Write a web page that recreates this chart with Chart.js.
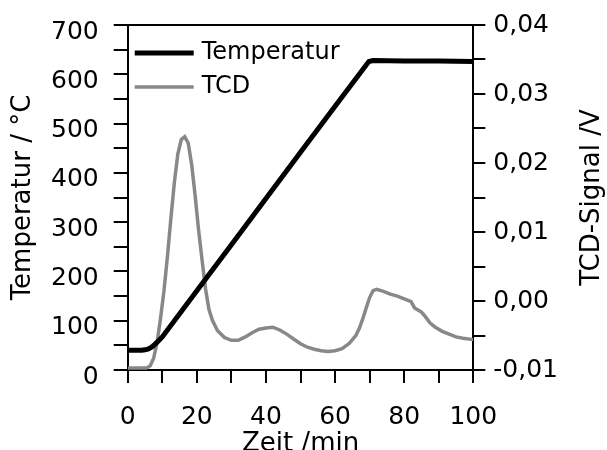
<!DOCTYPE html>
<html>
<head>
<meta charset="utf-8">
<script src="https://cdn.jsdelivr.net/npm/chart.js@4.4.1/dist/chart.umd.min.js"></script>
<style>
  html, body { margin: 0; padding: 0; overflow: hidden; background: #fff; }
  canvas { display: block; }
</style>
</head>
<body>
<canvas id="tpd" width="607" height="457"></canvas>
<script>
// Temperaturprogramm (linke Achse)
const tempTime   = [0, 4, 5, 6, 7, 8, 9, 10, 20, 30, 40, 50, 60, 69, 69.8, 71, 80, 90, 100];
const tempValues = [40, 40, 41, 43, 47, 53, 60, 67, 161, 254, 348, 442, 535, 619, 626, 628, 627, 627, 626];

// TCD-Signal (rechte Achse, in V)
const tcdTime = [0, 2, 4, 5.5, 6.5, 7.5, 8.5, 9.5, 10.5, 11.5, 12.5, 13.5, 14.5, 15.5, 16.5, 17.5, 18.5, 19.5,
  20.5, 21.5, 22.5, 23.5, 24.5, 26, 28, 30, 32, 34, 36, 38, 40, 42, 44, 46, 48, 50, 52, 54, 56, 58, 60, 62,
  64, 66, 67, 68, 69, 70, 71, 72, 74, 76, 78, 80, 82, 83, 84, 85, 86, 87.5, 89, 91, 93, 95, 97, 100];
const tcdValues = [-0.0097, -0.0097, -0.0097, -0.0097, -0.0094, -0.0083, -0.0060, -0.0025, 0.0015, 0.0065,
  0.0120, 0.0172, 0.0213, 0.0234, 0.0238, 0.0229, 0.0198, 0.0153, 0.0103, 0.0060, 0.0018, -0.0012, -0.0028,
  -0.0043, -0.0053, -0.0057, -0.0057, -0.0052, -0.0046, -0.0041, -0.0039, -0.0038, -0.0042, -0.0048, -0.0055,
  -0.0062, -0.0067, -0.0070, -0.0072, -0.0073, -0.0072, -0.0069, -0.0062, -0.0050, -0.0040, -0.0026, -0.0010,
  0.0005, 0.0015, 0.0017, 0.0014, 0.0010, 0.0007, 0.0003, -0.0001, -0.0010, -0.0013, -0.0016, -0.0022,
  -0.0032, -0.0038, -0.0044, -0.0048, -0.0052, -0.0054, -0.0056];

// beschriftete Ticks
const xLabels  = [0, 20, 40, 60, 80, 100];
const yLabels  = [0, 100, 200, 300, 400, 500, 600, 700];
const y2Labels = [-0.01, 0, 0.01, 0.02, 0.03, 0.04];

const FONT = "'DejaVu Sans', sans-serif";
const toPoints = (xs, ys) => xs.map((x, i) => ({x: x, y: ys[i]}));
const near = (v, list) => list.some(l => Math.abs(l - v) < 1e-9);

// obere Rahmenlinie, Legende und rechte Achsenbeschriftung (von unten nach oben)
const extras = {
  id: 'extras',
  afterDraw(chart) {
    const ctx = chart.ctx;
    const a = chart.chartArea;
    ctx.save();
    ctx.strokeStyle = '#000';
    ctx.lineWidth = 2;
    ctx.beginPath();
    ctx.moveTo(a.left, a.top);
    ctx.lineTo(a.right, a.top);
    ctx.stroke();

    // Legende
    ctx.font = '24px ' + FONT;
    ctx.textBaseline = 'middle';
    ctx.textAlign = 'left';
    chart.data.datasets.forEach((ds, i) => {
      const y = a.top + 28 + i * 34;
      ctx.strokeStyle = ds.borderColor;
      ctx.lineWidth = ds.borderWidth;
      ctx.beginPath();
      ctx.moveTo(a.left + 7, y);
      ctx.lineTo(a.left + 66, y);
      ctx.stroke();
      ctx.fillStyle = '#000';
      ctx.fillText(ds.label, a.left + 74, y);
    });

    // rechte Achse: Titel gedreht wie links
    const s = chart.scales.y2;
    ctx.translate(s.right - 13 - 2, (a.top + a.bottom) / 2);
    ctx.rotate(-Math.PI / 2);
    ctx.font = '26px ' + FONT;
    ctx.textAlign = 'center';
    ctx.fillText('TCD-Signal /V', 0, 0);
    ctx.restore();
  }
};

const axisGrid = {drawOnChartArea: false, color: '#000', tickColor: '#000', lineWidth: 2, tickWidth: 2};

new Chart(document.getElementById('tpd'), {
  type: 'line',
  data: {
    datasets: [
      {
        label: 'Temperatur',
        data: toPoints(tempTime, tempValues),
        yAxisID: 'y',
        borderColor: '#000',
        borderWidth: 5,
        pointRadius: 0
      },
      {
        label: 'TCD',
        data: toPoints(tcdTime, tcdValues),
        yAxisID: 'y2',
        borderColor: '#888',
        borderWidth: 3.5,
        pointRadius: 0
      }
    ]
  },
  options: {
    responsive: false,
    animation: false,
    layout: {padding: {top: 25, left: 0, right: 0, bottom: 0}},
    plugins: {legend: {display: false}, tooltip: {enabled: false}},
    scales: {
      x: {
        type: 'linear',
        min: 0, max: 100,
        grid: Object.assign({}, axisGrid, {tickLength: 13}),
        border: {display: true, color: '#000', width: 2},
        ticks: {
          stepSize: 10, padding: 19.5, color: '#000', maxRotation: 0, autoSkip: false,
          font: {family: FONT, size: 25},
          callback: v => near(v, xLabels) ? String(v) : ''
        },
        title: {
          display: true, text: 'Zeit /min', color: '#000',
          font: {family: FONT, size: 26, lineHeight: 1},
          padding: {top: -21, bottom: 0}
        }
      },
      y: {
        position: 'left',
        min: 0, max: 700,
        grid: Object.assign({}, axisGrid, {tickLength: 14}),
        border: {display: true, color: '#000', width: 2},
        ticks: {
          stepSize: 50, padding: 15, labelOffset: 7, color: '#000', autoSkip: false,
          font: {family: FONT, size: 25, lineHeight: 0.8},
          callback: v => near(v, yLabels) ? String(v) : ''
        },
        title: {
          display: true, text: 'Temperatur / °C', color: '#000',
          font: {family: FONT, size: 26, lineHeight: 1},
          padding: {top: 10, bottom: 0}
        }
      },
      y2: {
        position: 'right',
        min: -0.01, max: 0.04,
        grid: Object.assign({}, axisGrid, {tickLength: 12}),
        border: {display: true, color: '#000', width: 2},
        ticks: {
          stepSize: 0.005, padding: 8, color: '#000', autoSkip: false,
          font: {family: FONT, size: 25, lineHeight: 0.8},
          callback: v => near(v, y2Labels) ? v.toFixed(2).replace('.', ',') : ''
        },
        title: {
          display: true, text: 'TCD-Signal /V', color: 'rgba(0,0,0,0)',
          font: {family: FONT, size: 26, lineHeight: 1},
          padding: {top: 2, bottom: 13}
        }
      }
    }
  },
  plugins: [extras]
});
</script>
</body>
</html>
